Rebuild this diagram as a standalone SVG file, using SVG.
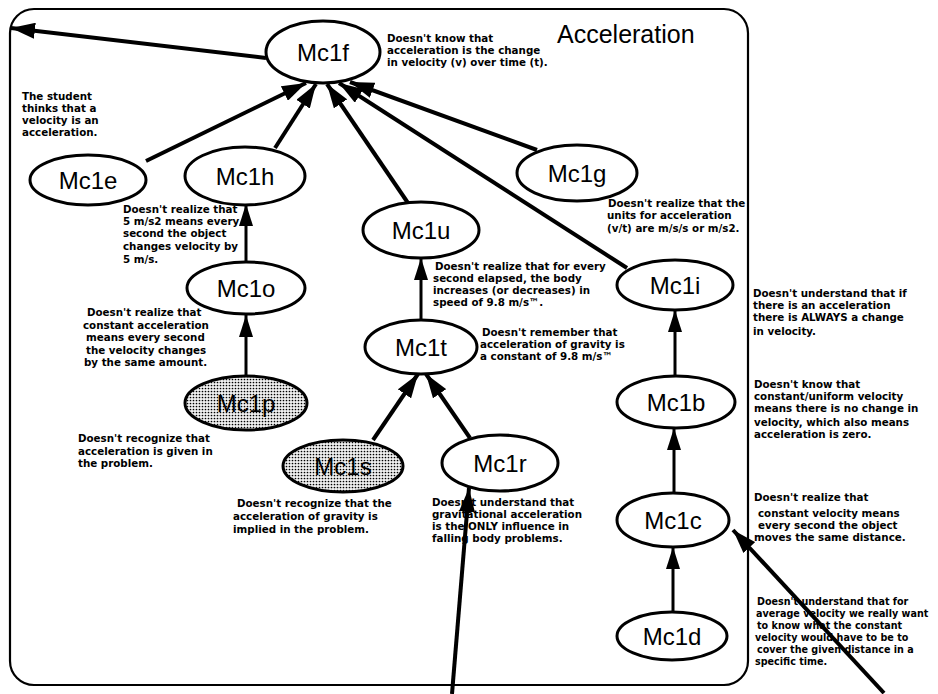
<svg xmlns="http://www.w3.org/2000/svg" width="938" height="694" viewBox="0 0 938 694">
<style>
.frame{fill:none;stroke:#000;stroke-width:2.2}
.node ellipse{fill:#fff;stroke:#000;stroke-width:3}
.node.shaded ellipse{fill:url(#stip)}
.nl{font-family:"Liberation Sans",Arial,sans-serif;font-size:24px;text-anchor:middle;fill:#000}
.note{font-family:"DejaVu Sans","Liberation Sans",Arial,sans-serif;font-size:10.3px;font-weight:bold;fill:#000}
.title{font-family:"Liberation Sans",Arial,sans-serif;font-size:25px;fill:#000}
.c{stroke:#000;fill:none;stroke-width:4;marker-end:url(#ah)}
.cv{stroke:#000;fill:none;stroke-width:3;marker-end:url(#ahv)}
</style>
<defs>
<pattern id="stip" patternUnits="userSpaceOnUse" width="3" height="3">
<rect width="3" height="3" fill="#f0f0f0"/>
<circle cx="1.5" cy="1.5" r="0.85" fill="#000"/>
</pattern>
<marker id="ah" markerUnits="userSpaceOnUse" markerWidth="26" markerHeight="16" refX="24" refY="8" orient="auto">
<path d="M0,0 L24,8 L0,16 z" fill="#000"/>
</marker>
<marker id="ahv" markerUnits="userSpaceOnUse" markerWidth="24" markerHeight="14" refX="22" refY="7" orient="auto">
<path d="M0,0 L22,7 L0,14 z" fill="#000"/>
</marker>
</defs>
<rect width="938" height="694" fill="#fff"/>
<rect class="frame" x="10" y="9" width="738" height="676" rx="24" ry="24"/>
<text class="title" x="557" y="43">Acceleration</text>

<g id="connectors">
<line class="c" x1="266" y1="58" x2="11" y2="28"/>
<line class="c" x1="146" y1="161" x2="306" y2="83"/>
<line class="c" x1="275" y1="148" x2="316" y2="84"/>
<line class="c" x1="408" y1="203" x2="327" y2="84"/>
<line class="c" x1="627" y1="268" x2="339" y2="83"/>
<line class="c" x1="537" y1="150" x2="350" y2="82"/>
<line class="cv" x1="246" y1="263" x2="246" y2="204"/>
<line class="cv" x1="246" y1="377" x2="246" y2="315"/>
<line class="cv" x1="421" y1="320" x2="421" y2="258"/>
<line class="c" x1="373" y1="440" x2="418" y2="374"/>
<line class="c" x1="470" y1="438" x2="426" y2="374"/>
<line class="cv" x1="675" y1="377" x2="675" y2="310"/>
<line class="cv" x1="674" y1="494" x2="674" y2="428"/>
<line class="cv" x1="673" y1="612" x2="673" y2="547"/>
<line class="c" x1="452" y1="694" x2="469" y2="488"/>
<line class="c" x1="884" y1="693" x2="733" y2="530"/>
</g>

<g id="node-Mc1f" class="node"><ellipse cx="323" cy="52" rx="57" ry="31"/><text class="nl" x="323" y="61">Mc1f</text></g>
<g id="node-Mc1e" class="node"><ellipse cx="88" cy="180" rx="58" ry="25"/><text class="nl" x="88" y="189">Mc1e</text></g>
<g id="node-Mc1h" class="node"><ellipse cx="245" cy="176" rx="60" ry="29"/><text class="nl" x="245" y="185">Mc1h</text></g>
<g id="node-Mc1g" class="node"><ellipse cx="577" cy="173" rx="60" ry="28"/><text class="nl" x="577" y="182">Mc1g</text></g>
<g id="node-Mc1u" class="node"><ellipse cx="421" cy="230" rx="58" ry="28"/><text class="nl" x="421" y="239">Mc1u</text></g>
<g id="node-Mc1o" class="node"><ellipse cx="246" cy="288" rx="59" ry="26"/><text class="nl" x="246" y="297">Mc1o</text></g>
<g id="node-Mc1i" class="node"><ellipse cx="675" cy="285" rx="58" ry="25"/><text class="nl" x="675" y="294">Mc1i</text></g>
<g id="node-Mc1t" class="node"><ellipse cx="421" cy="347" rx="56" ry="27"/><text class="nl" x="421" y="356">Mc1t</text></g>
<g id="node-Mc1p" class="node shaded"><ellipse cx="246" cy="403" rx="61" ry="27"/><text class="nl" x="246" y="412">Mc1p</text></g>
<g id="node-Mc1b" class="node"><ellipse cx="676" cy="402" rx="59" ry="26"/><text class="nl" x="676" y="411">Mc1b</text></g>
<g id="node-Mc1s" class="node shaded"><ellipse cx="343" cy="466" rx="60" ry="26"/><text class="nl" x="343" y="475">Mc1s</text></g>
<g id="node-Mc1r" class="node"><ellipse cx="500" cy="463" rx="58" ry="28"/><text class="nl" x="500" y="472">Mc1r</text></g>
<g id="node-Mc1c" class="node"><ellipse cx="673" cy="520" rx="56" ry="27"/><text class="nl" x="673" y="529">Mc1c</text></g>
<g id="node-Mc1d" class="node"><ellipse cx="672" cy="636" rx="55" ry="24"/><text class="nl" x="672" y="645">Mc1d</text></g>

<g id="notes">
<text class="note"><tspan x="387" y="42">Doesn't know that</tspan><tspan x="387" y="54">acceleration is the change</tspan><tspan x="387" y="66">in velocity (v) over time (t).</tspan></text>
<text class="note"><tspan x="22" y="100">The student</tspan><tspan x="22" y="112">thinks that a</tspan><tspan x="22" y="124">velocity is an</tspan><tspan x="22" y="136">acceleration.</tspan></text>
<text class="note"><tspan x="123" y="213">Doesn't realize that</tspan><tspan x="123" y="225">5 m/s2 means every</tspan><tspan x="123" y="237">second the object</tspan><tspan x="123" y="250">changes velocity by</tspan><tspan x="123" y="263">5 m/s.</tspan></text>
<text class="note"><tspan x="87" y="316">Doesn't realize that</tspan><tspan x="83" y="329">constant acceleration</tspan><tspan x="86" y="341">means every second</tspan><tspan x="86" y="354">the velocity changes</tspan><tspan x="84" y="366">by the same amount.</tspan></text>
<text class="note"><tspan x="78" y="442">Doesn't recognize that</tspan><tspan x="78" y="455">acceleration is given in</tspan><tspan x="78" y="467">the problem.</tspan></text>
<text class="note"><tspan x="237" y="507">Doesn't recognize that the</tspan><tspan x="233" y="520">acceleration of gravity is</tspan><tspan x="233" y="533">implied in the problem.</tspan></text>
<text class="note"><tspan x="435" y="270">Doesn't realize that for every</tspan><tspan x="433" y="282">second elapsed, the body</tspan><tspan x="433" y="294">increases (or decreases) in</tspan><tspan x="433" y="306">speed of 9.8 m/s™.</tspan></text>
<text class="note"><tspan x="482" y="336">Doesn't remember that</tspan><tspan x="480" y="348">acceleration of gravity is</tspan><tspan x="480" y="360">a constant of 9.8 m/s™</tspan></text>
<text class="note"><tspan x="432" y="506">Doesn't understand that</tspan><tspan x="432" y="518">gravitational acceleration</tspan><tspan x="432" y="530">is the ONLY influence in</tspan><tspan x="432" y="542">falling body problems.</tspan></text>
<text class="note"><tspan x="608" y="207">Doesn't realize that the</tspan><tspan x="607" y="219">units for acceleration</tspan><tspan x="607" y="232">(v/t) are m/s/s or m/s2.</tspan></text>
<text class="note"><tspan x="753" y="297">Doesn't understand that if</tspan><tspan x="753" y="309">there is an acceleration</tspan><tspan x="753" y="321">there is ALWAYS a change</tspan><tspan x="753" y="335">in velocity.</tspan></text>
<text class="note"><tspan x="754" y="388">Doesn't know that</tspan><tspan x="754" y="400">constant/uniform velocity</tspan><tspan x="754" y="412">means there is no change in</tspan><tspan x="754" y="426">velocity, which also means</tspan><tspan x="754" y="438">acceleration is zero.</tspan></text>
<text class="note"><tspan x="754" y="501">Doesn't realize that</tspan><tspan x="758" y="517">constant velocity means</tspan><tspan x="758" y="529">every second the object</tspan><tspan x="754" y="541">moves the same distance.</tspan></text>
<text class="note" style="font-size:9.6px"><tspan x="757" y="605">Doesn't understand that for</tspan><tspan x="756" y="617">average velocity we really want</tspan><tspan x="757" y="629">to know what the constant</tspan><tspan x="755" y="641">velocity would have to be to</tspan><tspan x="757" y="653">cover the given distance in a</tspan><tspan x="755" y="665">specific time.</tspan></text>
</g>
</svg>
